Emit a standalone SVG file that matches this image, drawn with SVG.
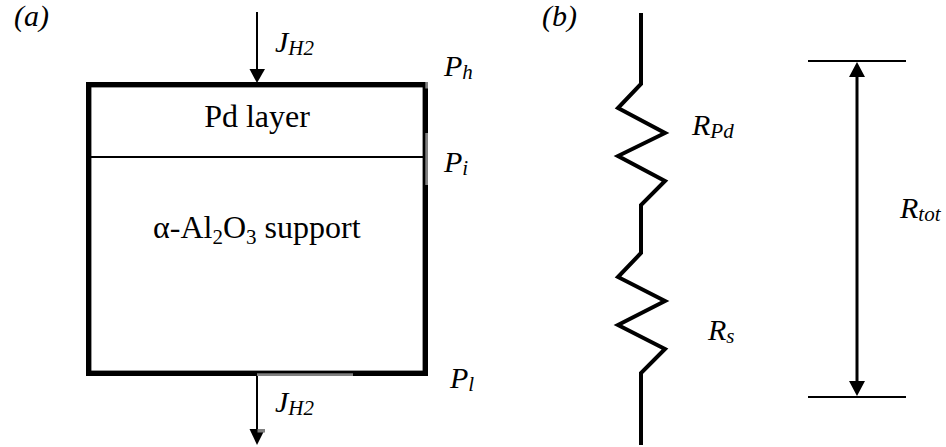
<svg xmlns="http://www.w3.org/2000/svg" width="946" height="447" viewBox="0 0 946 447">
<style>
text{font-family:"Liberation Serif","Times New Roman",serif;fill:#000}
.i{font-style:italic;font-size:30px}
.s{font-size:21px}
.m{font-size:32px}
.u{font-size:21px}
.t{fill:none;stroke:#000}
.g{fill:#808080}
</style>
<rect width="946" height="447" fill="#fff"/>
<g id="box">
<rect class="t" x="88.7" y="84.7" width="336.6" height="288.6" stroke-width="5.4"/>
<rect class="g" x="425.3" y="82" width="2.7" height="6.5"/>
<rect class="g" x="425.3" y="133" width="2.7" height="52"/>
<rect class="g" x="257" y="373.3" width="96" height="2.7"/>
<line class="t" x1="91" y1="157" x2="423" y2="157" stroke-width="2"/>
<text class="m" x="257" y="127" text-anchor="middle">Pd layer</text>
<text class="m" x="153" y="238">α-Al<tspan class="u" dy="6">2</tspan><tspan dy="-6">O</tspan><tspan class="u" dy="6">3</tspan><tspan dy="-6"> support</tspan></text>
</g>
<g id="labels">
<text class="i" x="14" y="26">(a)</text>
<text class="i" x="542" y="26">(b)</text>
<text class="i" x="275" y="52">J<tspan class="s" dy="3">H2</tspan></text>
<text class="i" x="275" y="412">J<tspan class="s" dy="3">H2</tspan></text>
<text class="i" x="444" y="76">P<tspan class="s" dy="3">h</tspan></text>
<text class="i" x="444" y="172">P<tspan class="s" dy="3">i</tspan></text>
<text class="i" x="450" y="388">P<tspan class="s" dy="3">l</tspan></text>
<text class="i" x="692" y="135">R<tspan class="s" dy="3">Pd</tspan></text>
<text class="i" x="708" y="340">R<tspan class="s" dy="3">s</tspan></text>
<text class="i" x="900" y="218">R<tspan class="s" dy="3">tot</tspan></text>
</g>
<g id="connectors">
<line class="t" x1="257" y1="12" x2="257" y2="70" stroke-width="2"/>
<polygon points="249.5,69 265,69 257,83"/>
<line class="t" x1="257" y1="376" x2="257" y2="430" stroke-width="2"/>
<polygon points="249.5,429 265,429 257,445"/>
<rect class="g" x="257.5" y="429" width="7.5" height="3.5"/>
<polyline class="t" stroke-width="4" points="641,13 641,84 618,108 665,133 618,156 665,181 641,205 641,253 618,277 665,301 618,325 665,349 641,373 641,445"/>
<line class="t" x1="808" y1="61" x2="906" y2="61" stroke-width="2"/>
<line class="t" x1="808" y1="397" x2="906" y2="397" stroke-width="2"/>
<line class="t" x1="857" y1="75" x2="857" y2="383" stroke-width="3"/>
<polygon points="857,62 849,77 865,77"/>
<polygon points="849,381 865,381 857,396"/>
</g>
</svg>
